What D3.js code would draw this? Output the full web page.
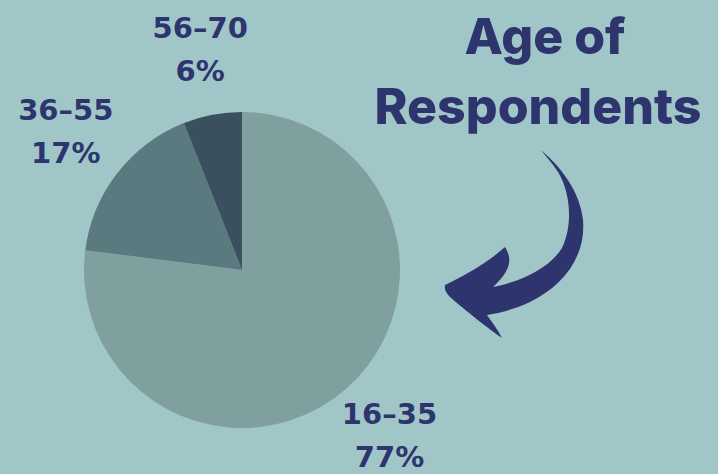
<!DOCTYPE html>
<html>
<head>
<meta charset="utf-8">
<script src="https://cdn.jsdelivr.net/npm/d3@7"></script>
<style>
  html, body { margin: 0; padding: 0; background: #a1c6c8; overflow: hidden; }
</style>
</head>
<body>
<div id="chart"></div>
<script>
// data
var ageGroups = ["16–35", "36–55", "56–70"];
var shares = [77, 17, 6];
var sliceColors = ["#7fa09e", "#5b7a80", "#3a505e"];

var width = 718, height = 474,
    cx = 242, cy = 270, radius = 158, labelRadius = 223,
    ink = "#2e346e";

var svg = d3.select("#chart")
  .append("svg")
    .attr("width", width)
    .attr("height", height)
    .style("display", "block");

svg.append("rect")
  .attr("width", width)
  .attr("height", height)
  .attr("fill", "#a1c6c8");

var pie = d3.pie().sort(null).value(function(d) { return d; });
var arcs = pie(shares);

var arc = d3.arc().innerRadius(0).outerRadius(radius);
var labelArc = d3.arc().innerRadius(labelRadius).outerRadius(labelRadius);

var g = svg.append("g")
  .attr("transform", "translate(" + cx + "," + cy + ")");

//slices
g.selectAll("path.slice")
  .data(arcs)
  .enter()
  .append("path")
    .attr("class", "slice")
    .attr("d", arc)
    .attr("fill", function(d, i) { return sliceColors[i]; });

//labels
var labels = g.selectAll("g.label")
  .data(arcs)
  .enter()
  .append("g")
    .attr("class", "label")
    .attr("transform", function(d) {
      var c = labelArc.centroid(d);
      return "translate(" + c[0] + "," + c[1] + ")";
    });

labels.append("text")
  .attr("y", -13)
  .text(function(d, i) { return ageGroups[i]; });

labels.append("text")
  .attr("y", 30)
  .text(function(d) { return d.data + "%"; });

labels.selectAll("text")
  .attr("text-anchor", "middle")
  .attr("font-family", "DejaVu Sans")
  .attr("font-weight", "bold")
  .attr("font-size", "29px")
  .attr("fill", ink);

//title
var title = svg.append("text")
  .attr("text-anchor", "middle")
  .attr("font-family", "Inter")
  .attr("font-weight", "800")
  .attr("font-size", "50px")
  .attr("fill", ink);

title.append("tspan").attr("x", 545).attr("y", 54).text("Age of");
title.append("tspan").attr("x", 538).attr("y", 124).text("Respondents");

//curved arrow
svg.append("path")
  .attr("d", "M541,150 C562,168 580,192 583,220 " +
             "C586,255 565,285 530,302 C515,309 500,313 487,315 " +
             "C492,322 498,330 502,338 " +
             "C490,330 465,310 450,297 " +
             "C446,293 444,289 445,285 " +
             "C460,278 485,265 505,247 " +
             "C512,258 512,270 493,287 " +
             "C520,282 550,268 562,248 " +
             "C572,228 572,195 558,172 " +
             "C552,163 546,156 541,150 Z")
  .attr("fill", ink);
</script>
</body>
</html>
